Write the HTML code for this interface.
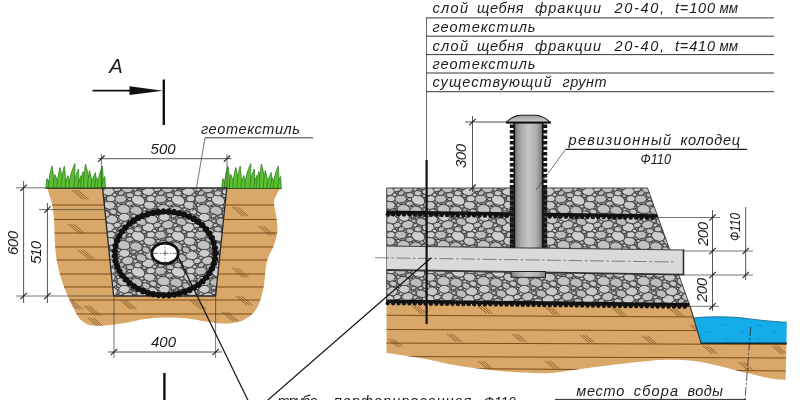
<!DOCTYPE html><html><head><meta charset="utf-8"><style>html,body{margin:0;padding:0;background:#fff;overflow:hidden}svg{display:block;filter:blur(0.3px)}</style></head><body><svg width="800" height="400" viewBox="0 0 800 400">
<defs>
<pattern id="gravel" width="40" height="36" patternUnits="userSpaceOnUse"><rect width="40" height="36" fill="#8e8e8e"/><ellipse cx="18.1" cy="20.2" rx="7.0" ry="4.9" transform="rotate(24 18.1 20.2)" fill="#cdcdcd" stroke="#353535" stroke-width="0.85"/><ellipse cx="31.7" cy="3.4" rx="6.2" ry="4.4" transform="rotate(7 31.7 3.4)" fill="#c8c8c8" stroke="#353535" stroke-width="0.85"/><ellipse cx="31.7" cy="39.4" rx="6.2" ry="4.4" transform="rotate(7 31.7 39.4)" fill="#c8c8c8" stroke="#353535" stroke-width="0.85"/><ellipse cx="3.6" cy="-6.9" rx="6.7" ry="4.7" transform="rotate(11 3.6 -6.9)" fill="#c2c2c2" stroke="#353535" stroke-width="0.85"/><ellipse cx="3.6" cy="29.1" rx="6.7" ry="4.7" transform="rotate(11 3.6 29.1)" fill="#c2c2c2" stroke="#353535" stroke-width="0.85"/><ellipse cx="43.6" cy="-6.9" rx="6.7" ry="4.7" transform="rotate(11 43.6 -6.9)" fill="#c2c2c2" stroke="#353535" stroke-width="0.85"/><ellipse cx="43.6" cy="29.1" rx="6.7" ry="4.7" transform="rotate(11 43.6 29.1)" fill="#c2c2c2" stroke="#353535" stroke-width="0.85"/><ellipse cx="0.6" cy="19.0" rx="5.9" ry="4.2" transform="rotate(-7 0.6 19.0)" fill="#bcbcbc" stroke="#353535" stroke-width="0.85"/><ellipse cx="40.6" cy="19.0" rx="5.9" ry="4.2" transform="rotate(-7 40.6 19.0)" fill="#bcbcbc" stroke="#353535" stroke-width="0.85"/><ellipse cx="7.6" cy="8.7" rx="5.9" ry="4.1" transform="rotate(-9 7.6 8.7)" fill="#c2c2c2" stroke="#353535" stroke-width="0.85"/><ellipse cx="28.3" cy="11.3" rx="6.1" ry="4.3" transform="rotate(2 28.3 11.3)" fill="#cdcdcd" stroke="#353535" stroke-width="0.85"/><ellipse cx="16.0" cy="-5.5" rx="6.3" ry="4.5" transform="rotate(18 16.0 -5.5)" fill="#bcbcbc" stroke="#353535" stroke-width="0.85"/><ellipse cx="16.0" cy="30.5" rx="6.3" ry="4.5" transform="rotate(18 16.0 30.5)" fill="#bcbcbc" stroke="#353535" stroke-width="0.85"/><ellipse cx="29.5" cy="25.3" rx="5.9" ry="4.2" transform="rotate(10 29.5 25.3)" fill="#c8c8c8" stroke="#353535" stroke-width="0.85"/><ellipse cx="21.2" cy="5.8" rx="5.3" ry="3.7" transform="rotate(20 21.2 5.8)" fill="#bcbcbc" stroke="#353535" stroke-width="0.85"/><ellipse cx="21.2" cy="41.8" rx="5.3" ry="3.7" transform="rotate(20 21.2 41.8)" fill="#bcbcbc" stroke="#353535" stroke-width="0.85"/><ellipse cx="4.2" cy="1.3" rx="5.7" ry="4.0" transform="rotate(-4 4.2 1.3)" fill="#cdcdcd" stroke="#353535" stroke-width="0.85"/><ellipse cx="4.2" cy="37.3" rx="5.7" ry="4.0" transform="rotate(-4 4.2 37.3)" fill="#cdcdcd" stroke="#353535" stroke-width="0.85"/><ellipse cx="44.2" cy="1.3" rx="5.7" ry="4.0" transform="rotate(-4 44.2 1.3)" fill="#cdcdcd" stroke="#353535" stroke-width="0.85"/><ellipse cx="44.2" cy="37.3" rx="5.7" ry="4.0" transform="rotate(-4 44.2 37.3)" fill="#cdcdcd" stroke="#353535" stroke-width="0.85"/><ellipse cx="30.8" cy="18.7" rx="4.3" ry="3.0" transform="rotate(-4 30.8 18.7)" fill="#cdcdcd" stroke="#353535" stroke-width="0.85"/><ellipse cx="-6.8" cy="-4.3" rx="3.8" ry="2.7" transform="rotate(17 -6.8 -4.3)" fill="#c8c8c8" stroke="#353535" stroke-width="0.85"/><ellipse cx="-6.8" cy="31.7" rx="3.8" ry="2.7" transform="rotate(17 -6.8 31.7)" fill="#c8c8c8" stroke="#353535" stroke-width="0.85"/><ellipse cx="33.2" cy="-4.3" rx="3.8" ry="2.7" transform="rotate(17 33.2 -4.3)" fill="#c8c8c8" stroke="#353535" stroke-width="0.85"/><ellipse cx="33.2" cy="31.7" rx="3.8" ry="2.7" transform="rotate(17 33.2 31.7)" fill="#c8c8c8" stroke="#353535" stroke-width="0.85"/><ellipse cx="-2.7" cy="9.0" rx="3.9" ry="2.7" transform="rotate(-14 -2.7 9.0)" fill="#c8c8c8" stroke="#353535" stroke-width="0.85"/><ellipse cx="37.3" cy="9.0" rx="3.9" ry="2.7" transform="rotate(-14 37.3 9.0)" fill="#c8c8c8" stroke="#353535" stroke-width="0.85"/><ellipse cx="26.0" cy="-2.2" rx="4.1" ry="2.9" transform="rotate(25 26.0 -2.2)" fill="#bcbcbc" stroke="#353535" stroke-width="0.85"/><ellipse cx="26.0" cy="33.8" rx="4.1" ry="2.9" transform="rotate(25 26.0 33.8)" fill="#bcbcbc" stroke="#353535" stroke-width="0.85"/><ellipse cx="10.1" cy="15.1" rx="3.8" ry="2.6" transform="rotate(4 10.1 15.1)" fill="#c2c2c2" stroke="#353535" stroke-width="0.85"/><ellipse cx="9.5" cy="23.6" rx="3.7" ry="2.6" transform="rotate(0 9.5 23.6)" fill="#bcbcbc" stroke="#353535" stroke-width="0.85"/><ellipse cx="17.9" cy="13.2" rx="3.8" ry="2.7" transform="rotate(9 17.9 13.2)" fill="#c2c2c2" stroke="#353535" stroke-width="0.85"/><ellipse cx="13.6" cy="0.0" rx="2.7" ry="1.9" transform="rotate(-21 13.6 0.0)" fill="#bcbcbc" stroke="#353535" stroke-width="0.85"/><ellipse cx="13.6" cy="36.0" rx="2.7" ry="1.9" transform="rotate(-21 13.6 36.0)" fill="#bcbcbc" stroke="#353535" stroke-width="0.85"/><ellipse cx="1.2" cy="13.0" rx="3.3" ry="2.3" transform="rotate(-19 1.2 13.0)" fill="#bcbcbc" stroke="#353535" stroke-width="0.85"/><ellipse cx="41.2" cy="13.0" rx="3.3" ry="2.3" transform="rotate(-19 41.2 13.0)" fill="#bcbcbc" stroke="#353535" stroke-width="0.85"/><ellipse cx="13.7" cy="4.7" rx="2.5" ry="1.7" transform="rotate(13 13.7 4.7)" fill="#c2c2c2" stroke="#353535" stroke-width="0.85"/><ellipse cx="13.7" cy="40.7" rx="2.5" ry="1.7" transform="rotate(13 13.7 40.7)" fill="#c2c2c2" stroke="#353535" stroke-width="0.85"/><ellipse cx="20.7" cy="0.2" rx="2.3" ry="1.6" transform="rotate(-9 20.7 0.2)" fill="#c8c8c8" stroke="#353535" stroke-width="0.85"/><ellipse cx="20.7" cy="36.2" rx="2.3" ry="1.6" transform="rotate(-9 20.7 36.2)" fill="#c8c8c8" stroke="#353535" stroke-width="0.85"/><ellipse cx="-5.4" cy="14.7" rx="2.4" ry="1.7" transform="rotate(13 -5.4 14.7)" fill="#cdcdcd" stroke="#353535" stroke-width="0.85"/><ellipse cx="34.6" cy="14.7" rx="2.4" ry="1.7" transform="rotate(13 34.6 14.7)" fill="#cdcdcd" stroke="#353535" stroke-width="0.85"/><ellipse cx="0.8" cy="5.8" rx="2.2" ry="1.6" transform="rotate(-5 0.8 5.8)" fill="#c8c8c8" stroke="#353535" stroke-width="0.85"/><ellipse cx="0.8" cy="41.8" rx="2.2" ry="1.6" transform="rotate(-5 0.8 41.8)" fill="#c8c8c8" stroke="#353535" stroke-width="0.85"/><ellipse cx="40.8" cy="5.8" rx="2.2" ry="1.6" transform="rotate(-5 40.8 5.8)" fill="#c8c8c8" stroke="#353535" stroke-width="0.85"/><ellipse cx="40.8" cy="41.8" rx="2.2" ry="1.6" transform="rotate(-5 40.8 41.8)" fill="#c8c8c8" stroke="#353535" stroke-width="0.85"/><ellipse cx="24.8" cy="-6.5" rx="2.1" ry="1.5" transform="rotate(3 24.8 -6.5)" fill="#c8c8c8" stroke="#353535" stroke-width="0.85"/><ellipse cx="24.8" cy="29.5" rx="2.1" ry="1.5" transform="rotate(3 24.8 29.5)" fill="#c8c8c8" stroke="#353535" stroke-width="0.85"/><ellipse cx="24.2" cy="16.0" rx="2.1" ry="1.5" transform="rotate(7 24.2 16.0)" fill="#cdcdcd" stroke="#353535" stroke-width="0.85"/><ellipse cx="-1.8" cy="25.0" rx="2.1" ry="1.5" transform="rotate(-4 -1.8 25.0)" fill="#cdcdcd" stroke="#353535" stroke-width="0.85"/><ellipse cx="38.2" cy="25.0" rx="2.1" ry="1.5" transform="rotate(-4 38.2 25.0)" fill="#cdcdcd" stroke="#353535" stroke-width="0.85"/><ellipse cx="15.1" cy="9.3" rx="2.4" ry="1.7" transform="rotate(-19 15.1 9.3)" fill="#c8c8c8" stroke="#353535" stroke-width="0.85"/><ellipse cx="-1.5" cy="-2.0" rx="2.1" ry="1.5" transform="rotate(24 -1.5 -2.0)" fill="#bcbcbc" stroke="#353535" stroke-width="0.85"/><ellipse cx="-1.5" cy="34.0" rx="2.1" ry="1.5" transform="rotate(24 -1.5 34.0)" fill="#bcbcbc" stroke="#353535" stroke-width="0.85"/><ellipse cx="38.5" cy="-2.0" rx="2.1" ry="1.5" transform="rotate(24 38.5 -2.0)" fill="#bcbcbc" stroke="#353535" stroke-width="0.85"/><ellipse cx="38.5" cy="34.0" rx="2.1" ry="1.5" transform="rotate(24 38.5 34.0)" fill="#bcbcbc" stroke="#353535" stroke-width="0.85"/><ellipse cx="9.6" cy="19.2" rx="2.1" ry="1.5" transform="rotate(-8 9.6 19.2)" fill="#c8c8c8" stroke="#353535" stroke-width="0.85"/><ellipse cx="21.9" cy="26.5" rx="2.2" ry="1.6" transform="rotate(6 21.9 26.5)" fill="#c8c8c8" stroke="#353535" stroke-width="0.85"/><ellipse cx="-3.9" cy="22.6" rx="1.5" ry="1.1" transform="rotate(-15 -3.9 22.6)" fill="#c8c8c8" stroke="#353535" stroke-width="0.85"/><ellipse cx="36.1" cy="22.6" rx="1.5" ry="1.1" transform="rotate(-15 36.1 22.6)" fill="#c8c8c8" stroke="#353535" stroke-width="0.85"/><ellipse cx="10.6" cy="27.1" rx="1.6" ry="1.1" transform="rotate(18 10.6 27.1)" fill="#c2c2c2" stroke="#353535" stroke-width="0.85"/><ellipse cx="8.6" cy="-2.3" rx="1.5" ry="1.1" transform="rotate(1 8.6 -2.3)" fill="#c2c2c2" stroke="#353535" stroke-width="0.85"/><ellipse cx="8.6" cy="33.7" rx="1.5" ry="1.1" transform="rotate(1 8.6 33.7)" fill="#c2c2c2" stroke="#353535" stroke-width="0.85"/><ellipse cx="-2.5" cy="0.4" rx="1.6" ry="1.1" transform="rotate(24 -2.5 0.4)" fill="#c8c8c8" stroke="#353535" stroke-width="0.85"/><ellipse cx="-2.5" cy="36.4" rx="1.6" ry="1.1" transform="rotate(24 -2.5 36.4)" fill="#c8c8c8" stroke="#353535" stroke-width="0.85"/><ellipse cx="37.5" cy="0.4" rx="1.6" ry="1.1" transform="rotate(24 37.5 0.4)" fill="#c8c8c8" stroke="#353535" stroke-width="0.85"/><ellipse cx="37.5" cy="36.4" rx="1.6" ry="1.1" transform="rotate(24 37.5 36.4)" fill="#c8c8c8" stroke="#353535" stroke-width="0.85"/><ellipse cx="16.7" cy="2.0" rx="1.5" ry="1.1" transform="rotate(18 16.7 2.0)" fill="#cdcdcd" stroke="#353535" stroke-width="0.85"/><ellipse cx="16.7" cy="38.0" rx="1.5" ry="1.1" transform="rotate(18 16.7 38.0)" fill="#cdcdcd" stroke="#353535" stroke-width="0.85"/><ellipse cx="13.4" cy="25.7" rx="1.5" ry="1.0" transform="rotate(-22 13.4 25.7)" fill="#c2c2c2" stroke="#353535" stroke-width="0.85"/><ellipse cx="-4.4" cy="27.4" rx="1.5" ry="1.1" transform="rotate(-20 -4.4 27.4)" fill="#c2c2c2" stroke="#353535" stroke-width="0.85"/><ellipse cx="35.6" cy="27.4" rx="1.5" ry="1.1" transform="rotate(-20 35.6 27.4)" fill="#c2c2c2" stroke="#353535" stroke-width="0.85"/><ellipse cx="3.4" cy="23.6" rx="1.7" ry="1.2" transform="rotate(17 3.4 23.6)" fill="#bcbcbc" stroke="#353535" stroke-width="0.85"/><ellipse cx="43.4" cy="23.6" rx="1.7" ry="1.2" transform="rotate(17 43.4 23.6)" fill="#bcbcbc" stroke="#353535" stroke-width="0.85"/><ellipse cx="12.9" cy="12.1" rx="1.5" ry="1.0" transform="rotate(-3 12.9 12.1)" fill="#bcbcbc" stroke="#353535" stroke-width="0.85"/><ellipse cx="5.0" cy="15.1" rx="1.5" ry="1.1" transform="rotate(18 5.0 15.1)" fill="#c2c2c2" stroke="#353535" stroke-width="0.85"/><ellipse cx="45.0" cy="15.1" rx="1.5" ry="1.1" transform="rotate(18 45.0 15.1)" fill="#c2c2c2" stroke="#353535" stroke-width="0.85"/><ellipse cx="20.5" cy="10.2" rx="1.6" ry="1.1" transform="rotate(23 20.5 10.2)" fill="#bcbcbc" stroke="#353535" stroke-width="0.85"/><ellipse cx="10.4" cy="3.3" rx="1.7" ry="1.2" transform="rotate(21 10.4 3.3)" fill="#c8c8c8" stroke="#353535" stroke-width="0.85"/><ellipse cx="10.4" cy="39.3" rx="1.7" ry="1.2" transform="rotate(21 10.4 39.3)" fill="#c8c8c8" stroke="#353535" stroke-width="0.85"/><ellipse cx="-1.3" cy="3.9" rx="1.5" ry="1.1" transform="rotate(-23 -1.3 3.9)" fill="#cdcdcd" stroke="#353535" stroke-width="0.85"/><ellipse cx="-1.3" cy="39.9" rx="1.5" ry="1.1" transform="rotate(-23 -1.3 39.9)" fill="#cdcdcd" stroke="#353535" stroke-width="0.85"/><ellipse cx="38.7" cy="3.9" rx="1.5" ry="1.1" transform="rotate(-23 38.7 3.9)" fill="#cdcdcd" stroke="#353535" stroke-width="0.85"/><ellipse cx="38.7" cy="39.9" rx="1.5" ry="1.1" transform="rotate(-23 38.7 39.9)" fill="#cdcdcd" stroke="#353535" stroke-width="0.85"/><ellipse cx="24.6" cy="1.7" rx="1.7" ry="1.2" transform="rotate(25 24.6 1.7)" fill="#cdcdcd" stroke="#353535" stroke-width="0.85"/><ellipse cx="24.6" cy="37.7" rx="1.7" ry="1.2" transform="rotate(25 24.6 37.7)" fill="#cdcdcd" stroke="#353535" stroke-width="0.85"/><ellipse cx="28.5" cy="-5.8" rx="1.6" ry="1.1" transform="rotate(20 28.5 -5.8)" fill="#bcbcbc" stroke="#353535" stroke-width="0.85"/><ellipse cx="28.5" cy="30.2" rx="1.6" ry="1.1" transform="rotate(20 28.5 30.2)" fill="#bcbcbc" stroke="#353535" stroke-width="0.85"/><ellipse cx="6.9" cy="20.5" rx="1.1" ry="0.8" transform="rotate(16 6.9 20.5)" fill="#c8c8c8" stroke="#353535" stroke-width="0.85"/><ellipse cx="46.9" cy="20.5" rx="1.1" ry="0.8" transform="rotate(16 46.9 20.5)" fill="#c8c8c8" stroke="#353535" stroke-width="0.85"/><ellipse cx="17.4" cy="25.6" rx="1.2" ry="0.9" transform="rotate(-11 17.4 25.6)" fill="#c8c8c8" stroke="#353535" stroke-width="0.85"/><ellipse cx="26.0" cy="20.8" rx="1.2" ry="0.9" transform="rotate(19 26.0 20.8)" fill="#c8c8c8" stroke="#353535" stroke-width="0.85"/><ellipse cx="22.3" cy="14.3" rx="1.2" ry="0.8" transform="rotate(-25 22.3 14.3)" fill="#c8c8c8" stroke="#353535" stroke-width="0.85"/><ellipse cx="25.4" cy="18.3" rx="1.2" ry="0.8" transform="rotate(-19 25.4 18.3)" fill="#bcbcbc" stroke="#353535" stroke-width="0.85"/><ellipse cx="-4.6" cy="-1.0" rx="1.3" ry="0.9" transform="rotate(9 -4.6 -1.0)" fill="#c2c2c2" stroke="#353535" stroke-width="0.85"/><ellipse cx="-4.6" cy="35.0" rx="1.3" ry="0.9" transform="rotate(9 -4.6 35.0)" fill="#c2c2c2" stroke="#353535" stroke-width="0.85"/><ellipse cx="35.4" cy="-1.0" rx="1.3" ry="0.9" transform="rotate(9 35.4 -1.0)" fill="#c2c2c2" stroke="#353535" stroke-width="0.85"/><ellipse cx="35.4" cy="35.0" rx="1.3" ry="0.9" transform="rotate(9 35.4 35.0)" fill="#c2c2c2" stroke="#353535" stroke-width="0.85"/><ellipse cx="0.8" cy="23.6" rx="1.1" ry="0.8" transform="rotate(-20 0.8 23.6)" fill="#bcbcbc" stroke="#353535" stroke-width="0.85"/><ellipse cx="40.8" cy="23.6" rx="1.1" ry="0.8" transform="rotate(-20 40.8 23.6)" fill="#bcbcbc" stroke="#353535" stroke-width="0.85"/><ellipse cx="12.9" cy="2.5" rx="1.1" ry="0.8" transform="rotate(-23 12.9 2.5)" fill="#bcbcbc" stroke="#353535" stroke-width="0.85"/><ellipse cx="12.9" cy="38.5" rx="1.1" ry="0.8" transform="rotate(-23 12.9 38.5)" fill="#bcbcbc" stroke="#353535" stroke-width="0.85"/><ellipse cx="-3.2" cy="12.5" rx="1.3" ry="0.9" transform="rotate(-23 -3.2 12.5)" fill="#cdcdcd" stroke="#353535" stroke-width="0.85"/><ellipse cx="36.8" cy="12.5" rx="1.3" ry="0.9" transform="rotate(-23 36.8 12.5)" fill="#cdcdcd" stroke="#353535" stroke-width="0.85"/><ellipse cx="-3.7" cy="-6.9" rx="1.2" ry="0.9" transform="rotate(-8 -3.7 -6.9)" fill="#c8c8c8" stroke="#353535" stroke-width="0.85"/><ellipse cx="-3.7" cy="29.1" rx="1.2" ry="0.9" transform="rotate(-8 -3.7 29.1)" fill="#c8c8c8" stroke="#353535" stroke-width="0.85"/><ellipse cx="36.3" cy="-6.9" rx="1.2" ry="0.9" transform="rotate(-8 36.3 -6.9)" fill="#c8c8c8" stroke="#353535" stroke-width="0.85"/><ellipse cx="36.3" cy="29.1" rx="1.2" ry="0.9" transform="rotate(-8 36.3 29.1)" fill="#c8c8c8" stroke="#353535" stroke-width="0.85"/><ellipse cx="27.2" cy="16.0" rx="1.1" ry="0.8" transform="rotate(-19 27.2 16.0)" fill="#c2c2c2" stroke="#353535" stroke-width="0.85"/><ellipse cx="-2.4" cy="5.7" rx="1.1" ry="0.8" transform="rotate(-24 -2.4 5.7)" fill="#cdcdcd" stroke="#353535" stroke-width="0.85"/><ellipse cx="-2.4" cy="41.7" rx="1.1" ry="0.8" transform="rotate(-24 -2.4 41.7)" fill="#cdcdcd" stroke="#353535" stroke-width="0.85"/><ellipse cx="37.6" cy="5.7" rx="1.1" ry="0.8" transform="rotate(-24 37.6 5.7)" fill="#cdcdcd" stroke="#353535" stroke-width="0.85"/><ellipse cx="37.6" cy="41.7" rx="1.1" ry="0.8" transform="rotate(-24 37.6 41.7)" fill="#cdcdcd" stroke="#353535" stroke-width="0.85"/></pattern>
<linearGradient id="pipeg" x1="0" x2="1" y1="0" y2="0"><stop offset="0" stop-color="#7c7c7c"/><stop offset="0.22" stop-color="#aaaaaa"/><stop offset="0.5" stop-color="#c6c6c6"/><stop offset="0.78" stop-color="#b0b0b0"/><stop offset="1" stop-color="#808080"/></linearGradient>
<clipPath id="cl"><path d="M47.5,188 L280.5,188 C279.9,189.0 278.1,191.7 277.0,194.0 C275.9,196.3 274.2,198.5 274.0,202.0 C273.8,205.5 275.4,210.3 276.0,215.0 C276.6,219.7 277.8,225.0 277.5,230.0 C277.2,235.0 275.6,240.3 274.0,245.0 C272.4,249.7 269.4,253.8 268.0,258.0 C266.6,262.2 266.2,265.5 265.5,270.0 C264.8,274.5 264.8,280.3 264.0,285.0 C263.2,289.7 262.2,294.2 261.0,298.0 C259.8,301.8 258.8,305.0 257.0,308.0 C255.2,311.0 252.8,313.8 250.0,316.0 C247.2,318.2 243.7,320.2 240.0,321.5 C236.3,322.8 232.2,323.2 228.0,323.5 C223.8,323.8 219.7,323.5 215.0,323.0 C210.3,322.5 205.0,321.3 200.0,320.5 C195.0,319.7 190.8,318.8 185.0,318.3 C179.2,317.8 171.7,317.4 165.0,317.5 C158.3,317.6 151.7,318.1 145.0,319.0 C138.3,319.9 131.7,321.9 125.0,323.0 C118.3,324.1 110.5,325.1 105.0,325.5 C99.5,325.9 95.5,326.0 92.0,325.5 C88.5,325.0 86.3,324.0 84.0,322.5 C81.7,321.0 80.0,319.4 78.0,316.5 C76.0,313.6 74.0,309.1 72.0,305.0 C70.0,300.9 67.8,296.5 66.0,292.0 C64.2,287.5 62.5,283.0 61.0,278.0 C59.5,273.0 58.0,267.5 57.0,262.0 C56.0,256.5 55.4,250.3 55.0,245.0 C54.6,239.7 54.7,234.5 54.5,230.0 C54.3,225.5 54.4,222.3 54.0,218.0 C53.6,213.7 52.8,208.0 52.0,204.0 C51.2,200.0 49.8,196.7 49.0,194.0 C48.2,191.3 47.8,189.0 47.5,188.0 Z"/></clipPath>
<clipPath id="cr"><path d="M386.5,301 L689.6,305 L701,343 L786.5,343 L785.5,380 C782.9,379.7 776.8,379.6 770.0,378.3 C763.2,377.1 754.2,374.7 745.0,372.5 C735.8,370.3 724.2,367.0 715.0,365.0 C705.8,363.0 699.2,361.3 690.0,360.5 C680.8,359.7 671.7,359.4 660.0,360.0 C648.3,360.6 633.3,362.5 620.0,364.0 C606.7,365.5 590.0,367.7 580.0,369.0 C570.0,370.3 566.7,371.3 560.0,372.0 C553.3,372.7 550.0,373.5 540.0,373.3 C530.0,373.1 513.3,372.2 500.0,371.0 C486.7,369.8 473.3,368.2 460.0,366.0 C446.7,363.8 432.2,360.2 420.0,358.0 C407.8,355.8 392.1,353.8 386.5,353.0 Z"/></clipPath>
<linearGradient id="capg" x1="0" x2="0" y1="0" y2="1"><stop offset="0" stop-color="#9c9c9c"/><stop offset="1" stop-color="#d2d2d2"/></linearGradient>
</defs>
<rect width="800" height="400" fill="#fff"/>
<path d="M47.5,188 L280.5,188 C279.9,189.0 278.1,191.7 277.0,194.0 C275.9,196.3 274.2,198.5 274.0,202.0 C273.8,205.5 275.4,210.3 276.0,215.0 C276.6,219.7 277.8,225.0 277.5,230.0 C277.2,235.0 275.6,240.3 274.0,245.0 C272.4,249.7 269.4,253.8 268.0,258.0 C266.6,262.2 266.2,265.5 265.5,270.0 C264.8,274.5 264.8,280.3 264.0,285.0 C263.2,289.7 262.2,294.2 261.0,298.0 C259.8,301.8 258.8,305.0 257.0,308.0 C255.2,311.0 252.8,313.8 250.0,316.0 C247.2,318.2 243.7,320.2 240.0,321.5 C236.3,322.8 232.2,323.2 228.0,323.5 C223.8,323.8 219.7,323.5 215.0,323.0 C210.3,322.5 205.0,321.3 200.0,320.5 C195.0,319.7 190.8,318.8 185.0,318.3 C179.2,317.8 171.7,317.4 165.0,317.5 C158.3,317.6 151.7,318.1 145.0,319.0 C138.3,319.9 131.7,321.9 125.0,323.0 C118.3,324.1 110.5,325.1 105.0,325.5 C99.5,325.9 95.5,326.0 92.0,325.5 C88.5,325.0 86.3,324.0 84.0,322.5 C81.7,321.0 80.0,319.4 78.0,316.5 C76.0,313.6 74.0,309.1 72.0,305.0 C70.0,300.9 67.8,296.5 66.0,292.0 C64.2,287.5 62.5,283.0 61.0,278.0 C59.5,273.0 58.0,267.5 57.0,262.0 C56.0,256.5 55.4,250.3 55.0,245.0 C54.6,239.7 54.7,234.5 54.5,230.0 C54.3,225.5 54.4,222.3 54.0,218.0 C53.6,213.7 52.8,208.0 52.0,204.0 C51.2,200.0 49.8,196.7 49.0,194.0 C48.2,191.3 47.8,189.0 47.5,188.0 Z" fill="#d9a869"/>
<g clip-path="url(#cl)">
<line x1="40" y1="205" x2="290" y2="205" stroke="#7a4a18" stroke-width="1"/>
<line x1="40" y1="219.5" x2="290" y2="219.5" stroke="#7a4a18" stroke-width="1"/>
<line x1="40" y1="233" x2="290" y2="233" stroke="#7a4a18" stroke-width="1"/>
<line x1="40" y1="247" x2="290" y2="247" stroke="#7a4a18" stroke-width="1"/>
<line x1="40" y1="260" x2="290" y2="260" stroke="#7a4a18" stroke-width="1"/>
<line x1="40" y1="274" x2="290" y2="274" stroke="#7a4a18" stroke-width="1"/>
<line x1="40" y1="287" x2="290" y2="287" stroke="#7a4a18" stroke-width="1"/>
<line x1="40" y1="300" x2="290" y2="300" stroke="#7a4a18" stroke-width="1"/>
<line x1="40" y1="314" x2="290" y2="314" stroke="#7a4a18" stroke-width="1"/>
<line x1="72.0" y1="190" x2="83.0" y2="199.35" stroke="#6e4a20" stroke-width="0.7"/><line x1="74.8" y1="190" x2="85.8" y2="199.35" stroke="#6e4a20" stroke-width="0.7"/><line x1="77.6" y1="190" x2="88.6" y2="199.35" stroke="#6e4a20" stroke-width="0.7"/>
<line x1="68.0" y1="224" x2="79.0" y2="233.35" stroke="#6e4a20" stroke-width="0.7"/><line x1="70.8" y1="224" x2="81.8" y2="233.35" stroke="#6e4a20" stroke-width="0.7"/><line x1="73.6" y1="224" x2="84.6" y2="233.35" stroke="#6e4a20" stroke-width="0.7"/>
<line x1="78.0" y1="250" x2="89.0" y2="259.35" stroke="#6e4a20" stroke-width="0.7"/><line x1="80.8" y1="250" x2="91.8" y2="259.35" stroke="#6e4a20" stroke-width="0.7"/><line x1="83.6" y1="250" x2="94.6" y2="259.35" stroke="#6e4a20" stroke-width="0.7"/>
<line x1="66.0" y1="300" x2="77.0" y2="309.35" stroke="#6e4a20" stroke-width="0.7"/><line x1="68.8" y1="300" x2="79.8" y2="309.35" stroke="#6e4a20" stroke-width="0.7"/><line x1="71.6" y1="300" x2="82.6" y2="309.35" stroke="#6e4a20" stroke-width="0.7"/>
<line x1="84.0" y1="306" x2="95.0" y2="315.35" stroke="#6e4a20" stroke-width="0.7"/><line x1="86.8" y1="306" x2="97.8" y2="315.35" stroke="#6e4a20" stroke-width="0.7"/><line x1="89.6" y1="306" x2="100.6" y2="315.35" stroke="#6e4a20" stroke-width="0.7"/>
<line x1="232.0" y1="207" x2="243.0" y2="216.35" stroke="#6e4a20" stroke-width="0.7"/><line x1="234.8" y1="207" x2="245.8" y2="216.35" stroke="#6e4a20" stroke-width="0.7"/><line x1="237.6" y1="207" x2="248.6" y2="216.35" stroke="#6e4a20" stroke-width="0.7"/>
<line x1="258.0" y1="226" x2="269.0" y2="235.35" stroke="#6e4a20" stroke-width="0.7"/><line x1="260.8" y1="226" x2="271.8" y2="235.35" stroke="#6e4a20" stroke-width="0.7"/><line x1="263.6" y1="226" x2="274.6" y2="235.35" stroke="#6e4a20" stroke-width="0.7"/>
<line x1="232.0" y1="268" x2="243.0" y2="277.35" stroke="#6e4a20" stroke-width="0.7"/><line x1="234.8" y1="268" x2="245.8" y2="277.35" stroke="#6e4a20" stroke-width="0.7"/><line x1="237.6" y1="268" x2="248.6" y2="277.35" stroke="#6e4a20" stroke-width="0.7"/>
<line x1="236.0" y1="296" x2="247.0" y2="305.35" stroke="#6e4a20" stroke-width="0.7"/><line x1="238.8" y1="296" x2="249.8" y2="305.35" stroke="#6e4a20" stroke-width="0.7"/><line x1="241.6" y1="296" x2="252.6" y2="305.35" stroke="#6e4a20" stroke-width="0.7"/>
<line x1="222.0" y1="312" x2="233.0" y2="321.35" stroke="#6e4a20" stroke-width="0.7"/><line x1="224.8" y1="312" x2="235.8" y2="321.35" stroke="#6e4a20" stroke-width="0.7"/><line x1="227.6" y1="312" x2="238.6" y2="321.35" stroke="#6e4a20" stroke-width="0.7"/>
<line x1="120.0" y1="300" x2="131.0" y2="309.35" stroke="#6e4a20" stroke-width="0.7"/><line x1="122.8" y1="300" x2="133.8" y2="309.35" stroke="#6e4a20" stroke-width="0.7"/><line x1="125.6" y1="300" x2="136.6" y2="309.35" stroke="#6e4a20" stroke-width="0.7"/>
<line x1="190.0" y1="300" x2="201.0" y2="309.35" stroke="#6e4a20" stroke-width="0.7"/><line x1="192.8" y1="300" x2="203.8" y2="309.35" stroke="#6e4a20" stroke-width="0.7"/><line x1="195.6" y1="300" x2="206.6" y2="309.35" stroke="#6e4a20" stroke-width="0.7"/>
<line x1="88.0" y1="318" x2="99.0" y2="327.35" stroke="#6e4a20" stroke-width="0.7"/><line x1="90.8" y1="318" x2="101.8" y2="327.35" stroke="#6e4a20" stroke-width="0.7"/><line x1="93.6" y1="318" x2="104.6" y2="327.35" stroke="#6e4a20" stroke-width="0.7"/>
</g>
<path d="M46,188.5 L46.5,180.5 L104.5,180.5 L105,188.5Z" fill="#4fb52c"/><path d="M46.0,188.5 C46.3,184.0 46.5,181.0 47.0,178.5 C48.5,181.5 49.7,184.5 50.0,188.5Z" fill="#5cc032" stroke="#2b7a1e" stroke-width="0.75" stroke-linejoin="round"/><path d="M48.5,188.5 C48.8,178.4 50.2,171.6 52.0,166.0 C53.2,172.8 54.2,179.5 54.5,188.5Z" fill="#5cc032" stroke="#2b7a1e" stroke-width="0.75" stroke-linejoin="round"/><path d="M53.5,188.5 C53.8,182.2 54.2,178.0 55.0,174.5 C56.8,178.7 58.2,182.9 58.5,188.5Z" fill="#5cc032" stroke="#2b7a1e" stroke-width="0.75" stroke-linejoin="round"/><path d="M57.0,188.5 C57.3,179.1 58.5,172.8 60.0,167.5 C61.5,173.8 62.7,180.1 63.0,188.5Z" fill="#5cc032" stroke="#2b7a1e" stroke-width="0.75" stroke-linejoin="round"/><path d="M61.0,188.5 C61.3,178.4 62.7,171.6 64.4,166.0 C65.2,172.8 65.7,179.5 66.0,188.5Z" fill="#5cc032" stroke="#2b7a1e" stroke-width="0.75" stroke-linejoin="round"/><path d="M65.0,188.5 C65.3,182.7 66.5,178.8 68.0,175.5 C69.0,179.4 69.7,183.3 70.0,188.5Z" fill="#5cc032" stroke="#2b7a1e" stroke-width="0.75" stroke-linejoin="round"/><path d="M69.0,188.5 C69.3,177.2 72.0,169.8 75.0,163.5 C75.0,171.0 74.7,178.5 75.0,188.5Z" fill="#5cc032" stroke="#2b7a1e" stroke-width="0.75" stroke-linejoin="round"/><path d="M74.0,188.5 C74.3,179.7 76.2,173.9 78.5,169.0 C78.8,174.8 78.7,180.7 79.0,188.5Z" fill="#5cc032" stroke="#2b7a1e" stroke-width="0.75" stroke-linejoin="round"/><path d="M78.0,188.5 C78.3,182.7 79.5,178.8 81.0,175.5 C82.0,179.4 82.7,183.3 83.0,188.5Z" fill="#5cc032" stroke="#2b7a1e" stroke-width="0.75" stroke-linejoin="round"/><path d="M80.5,188.5 C80.8,180.8 81.8,175.8 83.0,171.5 C84.2,176.6 85.2,181.7 85.5,188.5Z" fill="#5cc032" stroke="#2b7a1e" stroke-width="0.75" stroke-linejoin="round"/><path d="M83.5,188.5 C83.8,177.5 84.5,170.1 85.6,164.0 C87.5,171.3 89.2,178.7 89.5,188.5Z" fill="#5cc032" stroke="#2b7a1e" stroke-width="0.75" stroke-linejoin="round"/><path d="M87.5,188.5 C87.8,180.4 88.5,175.0 89.5,170.5 C91.0,175.9 92.2,181.3 92.5,188.5Z" fill="#5cc032" stroke="#2b7a1e" stroke-width="0.75" stroke-linejoin="round"/><path d="M91.0,188.5 C91.3,181.3 93.2,176.5 95.5,172.5 C95.8,177.3 95.7,182.1 96.0,188.5Z" fill="#5cc032" stroke="#2b7a1e" stroke-width="0.75" stroke-linejoin="round"/><path d="M94.5,188.5 C94.8,183.6 95.5,180.2 96.5,177.5 C98.0,180.8 99.2,184.1 99.5,188.5Z" fill="#5cc032" stroke="#2b7a1e" stroke-width="0.75" stroke-linejoin="round"/><path d="M97.5,188.5 C97.8,178.4 100.0,171.6 102.5,166.0 C103.0,172.8 103.2,179.5 103.5,188.5Z" fill="#5cc032" stroke="#2b7a1e" stroke-width="0.75" stroke-linejoin="round"/><path d="M101.5,188.5 C101.8,183.1 103.2,179.5 104.8,176.5 C105.2,180.1 105.2,183.7 105.5,188.5Z" fill="#5cc032" stroke="#2b7a1e" stroke-width="0.75" stroke-linejoin="round"/><line x1="45.5" y1="188.5" x2="105.5" y2="188.5" stroke="#2a5a18" stroke-width="1"/>
<path d="M221.8,188.5 L222.3,180.5 L280.3,180.5 L280.8,188.5Z" fill="#4fb52c"/><path d="M221.8,188.5 C222.1,184.0 222.3,181.0 222.8,178.5 C224.3,181.5 225.5,184.5 225.8,188.5Z" fill="#5cc032" stroke="#2b7a1e" stroke-width="0.75" stroke-linejoin="round"/><path d="M224.3,188.5 C224.6,178.4 226.1,171.6 227.8,166.0 C229.1,172.8 230.0,179.5 230.3,188.5Z" fill="#5cc032" stroke="#2b7a1e" stroke-width="0.75" stroke-linejoin="round"/><path d="M229.3,188.5 C229.6,182.2 230.1,178.0 230.8,174.5 C232.6,178.7 234.0,182.9 234.3,188.5Z" fill="#5cc032" stroke="#2b7a1e" stroke-width="0.75" stroke-linejoin="round"/><path d="M232.8,188.5 C233.1,179.1 234.3,172.8 235.8,167.5 C237.3,173.8 238.5,180.1 238.8,188.5Z" fill="#5cc032" stroke="#2b7a1e" stroke-width="0.75" stroke-linejoin="round"/><path d="M236.8,188.5 C237.1,178.4 238.5,171.6 240.2,166.0 C241.0,172.8 241.5,179.5 241.8,188.5Z" fill="#5cc032" stroke="#2b7a1e" stroke-width="0.75" stroke-linejoin="round"/><path d="M240.8,188.5 C241.1,182.7 242.3,178.8 243.8,175.5 C244.8,179.4 245.5,183.3 245.8,188.5Z" fill="#5cc032" stroke="#2b7a1e" stroke-width="0.75" stroke-linejoin="round"/><path d="M244.8,188.5 C245.1,177.2 247.8,169.8 250.8,163.5 C250.8,171.0 250.5,178.5 250.8,188.5Z" fill="#5cc032" stroke="#2b7a1e" stroke-width="0.75" stroke-linejoin="round"/><path d="M249.8,188.5 C250.1,179.7 252.1,173.9 254.3,169.0 C254.6,174.8 254.5,180.7 254.8,188.5Z" fill="#5cc032" stroke="#2b7a1e" stroke-width="0.75" stroke-linejoin="round"/><path d="M253.8,188.5 C254.1,182.7 255.3,178.8 256.8,175.5 C257.8,179.4 258.5,183.3 258.8,188.5Z" fill="#5cc032" stroke="#2b7a1e" stroke-width="0.75" stroke-linejoin="round"/><path d="M256.3,188.5 C256.6,180.8 257.6,175.8 258.8,171.5 C260.1,176.6 261.0,181.7 261.3,188.5Z" fill="#5cc032" stroke="#2b7a1e" stroke-width="0.75" stroke-linejoin="round"/><path d="M259.3,188.5 C259.6,177.5 260.4,170.1 261.4,164.0 C263.4,171.3 265.0,178.7 265.3,188.5Z" fill="#5cc032" stroke="#2b7a1e" stroke-width="0.75" stroke-linejoin="round"/><path d="M263.3,188.5 C263.6,180.4 264.3,175.0 265.3,170.5 C266.8,175.9 268.0,181.3 268.3,188.5Z" fill="#5cc032" stroke="#2b7a1e" stroke-width="0.75" stroke-linejoin="round"/><path d="M266.8,188.5 C267.1,181.3 269.1,176.5 271.3,172.5 C271.6,177.3 271.5,182.1 271.8,188.5Z" fill="#5cc032" stroke="#2b7a1e" stroke-width="0.75" stroke-linejoin="round"/><path d="M270.3,188.5 C270.6,183.6 271.3,180.2 272.3,177.5 C273.8,180.8 275.0,184.1 275.3,188.5Z" fill="#5cc032" stroke="#2b7a1e" stroke-width="0.75" stroke-linejoin="round"/><path d="M273.3,188.5 C273.6,178.4 275.8,171.6 278.3,166.0 C278.8,172.8 279.0,179.5 279.3,188.5Z" fill="#5cc032" stroke="#2b7a1e" stroke-width="0.75" stroke-linejoin="round"/><path d="M277.3,188.5 C277.6,183.1 279.0,179.5 280.6,176.5 C281.0,180.1 281.0,183.7 281.3,188.5Z" fill="#5cc032" stroke="#2b7a1e" stroke-width="0.75" stroke-linejoin="round"/><line x1="221.3" y1="188.5" x2="281.3" y2="188.5" stroke="#2a5a18" stroke-width="1"/>
<polygon points="102.6,188 226.8,188 215.6,296 113.6,296" fill="url(#gravel)" stroke="#2a2a2a" stroke-width="1.3"/>
<ellipse cx="165" cy="253.4" rx="50.1" ry="41.7" fill="none" stroke="#111" stroke-width="4.4"/>
<ellipse cx="165" cy="253.4" rx="51.5" ry="43.1" fill="none" stroke="#111" stroke-width="4.2" stroke-dasharray="0.1 5.3" stroke-linecap="round"/>
<ellipse cx="165" cy="253.4" rx="48.9" ry="40.5" fill="none" stroke="#111" stroke-width="3.6" stroke-dasharray="0.1 5.0" stroke-linecap="round"/>
<ellipse cx="165" cy="253.4" rx="13.2" ry="10.3" fill="#fff" stroke="#111" stroke-width="2.8"/>
<line x1="165" y1="229" x2="165" y2="274" stroke="#3a3a3a" stroke-width="0.7" stroke-dasharray="6 1.5 1.5 1.5"/>
<line x1="152" y1="253.4" x2="180" y2="253.4" stroke="#3a3a3a" stroke-width="0.7" stroke-dasharray="6 1.5 1.5 1.5"/>
<line x1="92.5" y1="90.7" x2="135" y2="90.7" stroke="#111" stroke-width="1.8"/>
<polygon points="129.5,86.3 163,90.7 129.5,95.1" fill="#111"/>
<line x1="163.8" y1="79.5" x2="163.8" y2="125" stroke="#111" stroke-width="2.4"/>
<line x1="164.4" y1="373" x2="164.4" y2="400" stroke="#111" stroke-width="2.4"/>
<line x1="98.5" y1="158.7" x2="231.5" y2="158.7" stroke="#2a2a2a" stroke-width="0.8"/>
<line x1="101.4" y1="154" x2="101.4" y2="188" stroke="#3a3a3a" stroke-width="0.7"/>
<line x1="227" y1="154" x2="227" y2="188" stroke="#3a3a3a" stroke-width="0.7"/>
<line x1="98.2" y1="161.89999999999998" x2="104.60000000000001" y2="155.5" stroke="#222" stroke-width="1.1"/>
<line x1="223.8" y1="161.89999999999998" x2="230.2" y2="155.5" stroke="#222" stroke-width="1.1"/>
<line x1="108" y1="352" x2="222" y2="352" stroke="#2a2a2a" stroke-width="0.8"/>
<line x1="114" y1="296" x2="114" y2="358" stroke="#3a3a3a" stroke-width="0.7"/>
<line x1="215.6" y1="296" x2="215.6" y2="358" stroke="#3a3a3a" stroke-width="0.7"/>
<line x1="110.8" y1="355.2" x2="117.2" y2="348.8" stroke="#222" stroke-width="1.1"/>
<line x1="212.4" y1="355.2" x2="218.79999999999998" y2="348.8" stroke="#222" stroke-width="1.1"/>
<line x1="23.6" y1="181" x2="23.6" y2="303" stroke="#2a2a2a" stroke-width="0.8"/>
<line x1="47.4" y1="203" x2="47.4" y2="303" stroke="#2a2a2a" stroke-width="0.8"/>
<line x1="16" y1="187.8" x2="101" y2="187.8" stroke="#3a3a3a" stroke-width="0.7"/>
<line x1="39" y1="209.6" x2="105" y2="209.6" stroke="#3a3a3a" stroke-width="0.7"/>
<line x1="16" y1="296" x2="116" y2="296" stroke="#3a3a3a" stroke-width="0.7"/>
<line x1="20.400000000000002" y1="191.0" x2="26.8" y2="184.60000000000002" stroke="#222" stroke-width="1.1"/>
<line x1="20.400000000000002" y1="299.2" x2="26.8" y2="292.8" stroke="#222" stroke-width="1.1"/>
<line x1="44.199999999999996" y1="212.79999999999998" x2="50.6" y2="206.4" stroke="#222" stroke-width="1.1"/>
<line x1="44.199999999999996" y1="299.2" x2="50.6" y2="292.8" stroke="#222" stroke-width="1.1"/>
<line x1="205" y1="137.8" x2="192.5" y2="211" stroke="#3a3a3a" stroke-width="0.7"/>
<line x1="205" y1="137.8" x2="313" y2="137.8" stroke="#2a2a2a" stroke-width="0.95"/>
<line x1="178" y1="256.5" x2="248.3" y2="401" stroke="#111" stroke-width="1.2"/>
<path d="M386.5,301 L689.6,305 L701,343 L786.5,343 L785.5,380 C782.9,379.7 776.8,379.6 770.0,378.3 C763.2,377.1 754.2,374.7 745.0,372.5 C735.8,370.3 724.2,367.0 715.0,365.0 C705.8,363.0 699.2,361.3 690.0,360.5 C680.8,359.7 671.7,359.4 660.0,360.0 C648.3,360.6 633.3,362.5 620.0,364.0 C606.7,365.5 590.0,367.7 580.0,369.0 C570.0,370.3 566.7,371.3 560.0,372.0 C553.3,372.7 550.0,373.5 540.0,373.3 C530.0,373.1 513.3,372.2 500.0,371.0 C486.7,369.8 473.3,368.2 460.0,366.0 C446.7,363.8 432.2,360.2 420.0,358.0 C407.8,355.8 392.1,353.8 386.5,353.0 Z" fill="#d9a869"/>
<g clip-path="url(#cr)">
<line x1="380" y1="315.2" x2="790" y2="317.5" stroke="#7a4a18" stroke-width="1"/>
<line x1="380" y1="329.5" x2="790" y2="331" stroke="#7a4a18" stroke-width="1"/>
<line x1="380" y1="343" x2="790" y2="344.5" stroke="#7a4a18" stroke-width="1"/>
<line x1="380" y1="356.5" x2="790" y2="358" stroke="#7a4a18" stroke-width="1"/>
<line x1="380" y1="368" x2="790" y2="371" stroke="#7a4a18" stroke-width="1"/>
<line x1="412.0" y1="306" x2="421.0" y2="313.65" stroke="#6e4a20" stroke-width="0.7"/><line x1="414.8" y1="306" x2="423.8" y2="313.65" stroke="#6e4a20" stroke-width="0.7"/><line x1="417.6" y1="306" x2="426.6" y2="313.65" stroke="#6e4a20" stroke-width="0.7"/>
<line x1="478.0" y1="306" x2="487.0" y2="313.65" stroke="#6e4a20" stroke-width="0.7"/><line x1="480.8" y1="306" x2="489.8" y2="313.65" stroke="#6e4a20" stroke-width="0.7"/><line x1="483.6" y1="306" x2="492.6" y2="313.65" stroke="#6e4a20" stroke-width="0.7"/>
<line x1="545.0" y1="307" x2="554.0" y2="314.65" stroke="#6e4a20" stroke-width="0.7"/><line x1="547.8" y1="307" x2="556.8" y2="314.65" stroke="#6e4a20" stroke-width="0.7"/><line x1="550.6" y1="307" x2="559.6" y2="314.65" stroke="#6e4a20" stroke-width="0.7"/>
<line x1="612.0" y1="308" x2="621.0" y2="315.65" stroke="#6e4a20" stroke-width="0.7"/><line x1="614.8" y1="308" x2="623.8" y2="315.65" stroke="#6e4a20" stroke-width="0.7"/><line x1="617.6" y1="308" x2="626.6" y2="315.65" stroke="#6e4a20" stroke-width="0.7"/>
<line x1="670.0" y1="309" x2="679.0" y2="316.65" stroke="#6e4a20" stroke-width="0.7"/><line x1="672.8" y1="309" x2="681.8" y2="316.65" stroke="#6e4a20" stroke-width="0.7"/><line x1="675.6" y1="309" x2="684.6" y2="316.65" stroke="#6e4a20" stroke-width="0.7"/>
<line x1="388.0" y1="339" x2="397.0" y2="346.65" stroke="#6e4a20" stroke-width="0.7"/><line x1="390.8" y1="339" x2="399.8" y2="346.65" stroke="#6e4a20" stroke-width="0.7"/><line x1="393.6" y1="339" x2="402.6" y2="346.65" stroke="#6e4a20" stroke-width="0.7"/>
<line x1="447.0" y1="334" x2="456.0" y2="341.65" stroke="#6e4a20" stroke-width="0.7"/><line x1="449.8" y1="334" x2="458.8" y2="341.65" stroke="#6e4a20" stroke-width="0.7"/><line x1="452.6" y1="334" x2="461.6" y2="341.65" stroke="#6e4a20" stroke-width="0.7"/>
<line x1="512.0" y1="334" x2="521.0" y2="341.65" stroke="#6e4a20" stroke-width="0.7"/><line x1="514.8" y1="334" x2="523.8" y2="341.65" stroke="#6e4a20" stroke-width="0.7"/><line x1="517.6" y1="334" x2="526.6" y2="341.65" stroke="#6e4a20" stroke-width="0.7"/>
<line x1="580.0" y1="335" x2="589.0" y2="342.65" stroke="#6e4a20" stroke-width="0.7"/><line x1="582.8" y1="335" x2="591.8" y2="342.65" stroke="#6e4a20" stroke-width="0.7"/><line x1="585.6" y1="335" x2="594.6" y2="342.65" stroke="#6e4a20" stroke-width="0.7"/>
<line x1="642.0" y1="336" x2="651.0" y2="343.65" stroke="#6e4a20" stroke-width="0.7"/><line x1="644.8" y1="336" x2="653.8" y2="343.65" stroke="#6e4a20" stroke-width="0.7"/><line x1="647.6" y1="336" x2="656.6" y2="343.65" stroke="#6e4a20" stroke-width="0.7"/>
<line x1="478.0" y1="361" x2="487.0" y2="368.65" stroke="#6e4a20" stroke-width="0.7"/><line x1="480.8" y1="361" x2="489.8" y2="368.65" stroke="#6e4a20" stroke-width="0.7"/><line x1="483.6" y1="361" x2="492.6" y2="368.65" stroke="#6e4a20" stroke-width="0.7"/>
<line x1="545.0" y1="361" x2="554.0" y2="368.65" stroke="#6e4a20" stroke-width="0.7"/><line x1="547.8" y1="361" x2="556.8" y2="368.65" stroke="#6e4a20" stroke-width="0.7"/><line x1="550.6" y1="361" x2="559.6" y2="368.65" stroke="#6e4a20" stroke-width="0.7"/>
<line x1="703.0" y1="346" x2="712.0" y2="353.65" stroke="#6e4a20" stroke-width="0.7"/><line x1="705.8" y1="346" x2="714.8" y2="353.65" stroke="#6e4a20" stroke-width="0.7"/><line x1="708.6" y1="346" x2="717.6" y2="353.65" stroke="#6e4a20" stroke-width="0.7"/>
<line x1="772.0" y1="346" x2="781.0" y2="353.65" stroke="#6e4a20" stroke-width="0.7"/><line x1="774.8" y1="346" x2="783.8" y2="353.65" stroke="#6e4a20" stroke-width="0.7"/><line x1="777.6" y1="346" x2="786.6" y2="353.65" stroke="#6e4a20" stroke-width="0.7"/>
<line x1="738.0" y1="362" x2="747.0" y2="369.65" stroke="#6e4a20" stroke-width="0.7"/><line x1="740.8" y1="362" x2="749.8" y2="369.65" stroke="#6e4a20" stroke-width="0.7"/><line x1="743.6" y1="362" x2="752.6" y2="369.65" stroke="#6e4a20" stroke-width="0.7"/>
<line x1="690.0" y1="325" x2="699.0" y2="332.65" stroke="#6e4a20" stroke-width="0.7"/><line x1="692.8" y1="325" x2="701.8" y2="332.65" stroke="#6e4a20" stroke-width="0.7"/><line x1="695.6" y1="325" x2="704.6" y2="332.65" stroke="#6e4a20" stroke-width="0.7"/>
</g>
<polygon points="386.7,188 647.5,188 689.6,305 386.7,301.5" fill="url(#gravel)"/>
<polygon points="386.7,188 647.5,188 689.6,305 386.7,301.5" fill="none" stroke="#333" stroke-width="0.9"/>
<line x1="386.7" y1="212.3" x2="657.5" y2="216" stroke="#111" stroke-width="3.6"/><line x1="387.7" y1="214.3" x2="657.5" y2="218.0" stroke="#111" stroke-width="4.3" stroke-dasharray="0.1 5.3" stroke-linecap="round"/>
<line x1="386.7" y1="301.2" x2="689.5" y2="304.9" stroke="#111" stroke-width="3.6"/><line x1="387.7" y1="303.2" x2="689.5" y2="306.9" stroke="#111" stroke-width="4.3" stroke-dasharray="0.1 5.3" stroke-linecap="round"/>
<polygon points="386.7,246 683.7,250 683.7,274.6 386.7,270" fill="#dadada"/>
<line x1="386.7" y1="246" x2="683.7" y2="250" stroke="#444" stroke-width="1.2"/>
<line x1="386.7" y1="270" x2="683.7" y2="274.6" stroke="#333" stroke-width="1.8"/>
<line x1="683.5" y1="249.5" x2="683.5" y2="275.2" stroke="#333" stroke-width="1.6"/>
<line x1="375" y1="257.7" x2="676" y2="262" stroke="#555" stroke-width="0.7" stroke-dasharray="14 2.5 2.5 2.5"/>
<rect x="511" y="271.5" width="34.5" height="5.8" fill="url(#pipeg)" stroke="#222" stroke-width="1"/>
<rect x="510" y="188" width="37" height="59.5" fill="#3a3a3a"/>
<line x1="512.1" y1="124.5" x2="512.1" y2="247.5" stroke="#151515" stroke-width="4.6" stroke-dasharray="3.4 2.1"/>
<line x1="544.9" y1="124.5" x2="544.9" y2="247.5" stroke="#151515" stroke-width="4.6" stroke-dasharray="3.4 2.1"/>
<rect x="513.4" y="123" width="30.2" height="124.5" fill="#151515"/>
<rect x="515.2" y="123" width="26.6" height="124.5" fill="url(#pipeg)"/>
<path d="M506.2,122.6 L550.6,122.6 C546,118 541,115.6 536,115.2 L520,115.2 C515,115.6 510.5,118 506.2,122.6Z" fill="url(#capg)" stroke="#1a1a1a" stroke-width="1.1" stroke-linejoin="round"/>
<line x1="506" y1="122.6" x2="550.8" y2="122.6" stroke="#111" stroke-width="2"/>
<line x1="426.5" y1="17.8" x2="426.5" y2="160" stroke="#444" stroke-width="0.8"/>
<line x1="426.6" y1="160" x2="426.6" y2="324" stroke="#111" stroke-width="2.2"/>
<line x1="426.2" y1="17.9" x2="774" y2="17.9" stroke="#2a2a2a" stroke-width="0.95"/>
<line x1="426.2" y1="36.2" x2="774" y2="36.2" stroke="#2a2a2a" stroke-width="0.95"/>
<line x1="426.2" y1="54.6" x2="774" y2="54.6" stroke="#2a2a2a" stroke-width="0.95"/>
<line x1="426.2" y1="73" x2="774" y2="73" stroke="#2a2a2a" stroke-width="0.95"/>
<line x1="426.2" y1="91.7" x2="774" y2="91.7" stroke="#2a2a2a" stroke-width="0.95"/>
<line x1="472.5" y1="116" x2="472.5" y2="192" stroke="#2a2a2a" stroke-width="0.8"/>
<line x1="465" y1="122" x2="507" y2="122" stroke="#222" stroke-width="0.8"/>
<line x1="469.3" y1="125.2" x2="475.7" y2="118.8" stroke="#222" stroke-width="1.1"/>
<line x1="469.3" y1="190.89999999999998" x2="475.7" y2="184.5" stroke="#222" stroke-width="1.1"/>
<line x1="565.5" y1="149.4" x2="747" y2="149.4" stroke="#222" stroke-width="1.1"/>
<line x1="565.5" y1="149.4" x2="536" y2="190" stroke="#3a3a3a" stroke-width="0.7"/>
<line x1="712.5" y1="210" x2="712.5" y2="311" stroke="#2a2a2a" stroke-width="0.8"/>
<line x1="745.7" y1="207" x2="745.7" y2="280" stroke="#2a2a2a" stroke-width="0.8"/>
<line x1="657" y1="217.5" x2="720" y2="217.5" stroke="#3a3a3a" stroke-width="0.7"/>
<line x1="684" y1="251" x2="753" y2="251" stroke="#3a3a3a" stroke-width="0.7"/>
<line x1="684" y1="275" x2="753" y2="275" stroke="#3a3a3a" stroke-width="0.7"/>
<line x1="689" y1="306.3" x2="719" y2="306.3" stroke="#3a3a3a" stroke-width="0.7"/>
<line x1="709.3" y1="220.7" x2="715.7" y2="214.3" stroke="#222" stroke-width="1.1"/>
<line x1="709.3" y1="254.2" x2="715.7" y2="247.8" stroke="#222" stroke-width="1.1"/>
<line x1="709.3" y1="278.2" x2="715.7" y2="271.8" stroke="#222" stroke-width="1.1"/>
<line x1="709.3" y1="309.5" x2="715.7" y2="303.1" stroke="#222" stroke-width="1.1"/>
<line x1="742.5" y1="254.2" x2="748.9000000000001" y2="247.8" stroke="#222" stroke-width="1.1"/>
<line x1="742.5" y1="278.2" x2="748.9000000000001" y2="271.8" stroke="#222" stroke-width="1.1"/>
<path d="M693.8,318 C705,316.5 725,316.5 738,317.5 C755,319.5 770,321.5 786.8,322.3 L786.5,343 L701,343Z" fill="#14adea"/>
<path d="M693.8,318 C705,316.5 725,316.5 738,317.5 C755,319.5 770,321.5 786.8,322.3" fill="none" stroke="#0b5f8a" stroke-width="0.8"/>
<line x1="700.5" y1="343.3" x2="786.8" y2="343.3" stroke="#0a2a3a" stroke-width="1.6"/>
<line x1="690" y1="306" x2="701.2" y2="343.5" stroke="#333" stroke-width="1.1"/>
<line x1="722" y1="325" x2="728" y2="325" stroke="#0c8fd2" stroke-width="0.8"/>
<line x1="705" y1="332" x2="711" y2="332" stroke="#0c8fd2" stroke-width="0.8"/>
<line x1="740" y1="332" x2="746" y2="332" stroke="#0c8fd2" stroke-width="0.8"/>
<line x1="724" y1="339" x2="730" y2="339" stroke="#0c8fd2" stroke-width="0.8"/>
<line x1="756" y1="325.5" x2="762" y2="325.5" stroke="#0c8fd2" stroke-width="0.8"/>
<line x1="772" y1="332" x2="778" y2="332" stroke="#0c8fd2" stroke-width="0.8"/>
<line x1="756" y1="339" x2="762" y2="339" stroke="#0c8fd2" stroke-width="0.8"/>
<line x1="750.7" y1="327" x2="745" y2="400" stroke="#2a2a2a" stroke-width="0.8" stroke-dasharray="9 2 2 2"/>
<line x1="555" y1="399.4" x2="746" y2="399.4" stroke="#2a2a2a" stroke-width="1"/>
<line x1="431.3" y1="257.8" x2="266.8" y2="401" stroke="#111" stroke-width="1.2"/>
<g font-family="'Liberation Sans', sans-serif" font-style="italic">
<text x="109.3" y="73.4" font-size="19.5" text-anchor="start" fill="#1c1c1c" textLength="13.5" lengthAdjust="spacingAndGlyphs">A</text>
<text x="201" y="134.4" font-size="14.5" text-anchor="start" fill="#1c1c1c" textLength="99" lengthAdjust="spacing">геотекстиль</text>
<text x="150.6" y="154.3" font-size="15" text-anchor="start" fill="#1c1c1c" textLength="25" lengthAdjust="spacing">500</text>
<text x="151" y="347" font-size="15" text-anchor="start" fill="#1c1c1c" textLength="25" lengthAdjust="spacing">400</text>
<text x="18.3" y="255" font-size="15" text-anchor="start" fill="#1c1c1c" textLength="24" lengthAdjust="spacing" transform="rotate(-90 18.3 255)">600</text>
<text x="41.3" y="264" font-size="15" text-anchor="start" fill="#1c1c1c" textLength="23" lengthAdjust="spacing" transform="rotate(-90 41.3 264)">510</text>
<text x="432.5" y="13" font-size="14.5" text-anchor="start" fill="#1c1c1c" textLength="35.5" lengthAdjust="spacing">слой</text>
<text x="477" y="13" font-size="14.5" text-anchor="start" fill="#1c1c1c" textLength="46.5" lengthAdjust="spacing">щебня</text>
<text x="535" y="13" font-size="14.5" text-anchor="start" fill="#1c1c1c" textLength="66" lengthAdjust="spacing">фракции</text>
<text x="614.5" y="13" font-size="14.5" text-anchor="start" fill="#1c1c1c" textLength="49.5" lengthAdjust="spacing">20-40,</text>
<text x="675" y="13" font-size="14.5" text-anchor="start" fill="#1c1c1c" textLength="40" lengthAdjust="spacing">t=100</text>
<text x="719.5" y="13" font-size="14.5" text-anchor="start" fill="#1c1c1c" textLength="18.5" lengthAdjust="spacingAndGlyphs">мм</text>
<text x="432.5" y="50.5" font-size="14.5" text-anchor="start" fill="#1c1c1c" textLength="35.5" lengthAdjust="spacing">слой</text>
<text x="477" y="50.5" font-size="14.5" text-anchor="start" fill="#1c1c1c" textLength="46.5" lengthAdjust="spacing">щебня</text>
<text x="535" y="50.5" font-size="14.5" text-anchor="start" fill="#1c1c1c" textLength="66" lengthAdjust="spacing">фракции</text>
<text x="614.5" y="50.5" font-size="14.5" text-anchor="start" fill="#1c1c1c" textLength="49.5" lengthAdjust="spacing">20-40,</text>
<text x="675" y="50.5" font-size="14.5" text-anchor="start" fill="#1c1c1c" textLength="40" lengthAdjust="spacing">t=410</text>
<text x="719.5" y="50.5" font-size="14.5" text-anchor="start" fill="#1c1c1c" textLength="18.5" lengthAdjust="spacingAndGlyphs">мм</text>
<text x="432.5" y="31.7" font-size="14.5" text-anchor="start" fill="#1c1c1c" textLength="103" lengthAdjust="spacing">геотекстиль</text>
<text x="432.5" y="68.7" font-size="14.5" text-anchor="start" fill="#1c1c1c" textLength="103" lengthAdjust="spacing">геотекстиль</text>
<text x="432.5" y="87" font-size="14.5" text-anchor="start" fill="#1c1c1c" textLength="119" lengthAdjust="spacing">существующий</text>
<text x="562.5" y="87" font-size="14.5" text-anchor="start" fill="#1c1c1c" textLength="44" lengthAdjust="spacing">грунт</text>
<text x="568.5" y="144.5" font-size="14.5" text-anchor="start" fill="#1c1c1c" textLength="102.5" lengthAdjust="spacing">ревизионный</text>
<text x="680.5" y="144.5" font-size="14.5" text-anchor="start" fill="#1c1c1c" textLength="59.5" lengthAdjust="spacing">колодец</text>
<text x="640.5" y="164.2" font-size="15" text-anchor="start" fill="#1c1c1c" textLength="30.5" lengthAdjust="spacingAndGlyphs">Ф110</text>
<text x="466.3" y="168" font-size="15" text-anchor="start" fill="#1c1c1c" textLength="24" lengthAdjust="spacing" transform="rotate(-90 466.3 168)">300</text>
<text x="707.6" y="246" font-size="15" text-anchor="start" fill="#1c1c1c" textLength="24" lengthAdjust="spacing" transform="rotate(-90 707.6 246)">200</text>
<text x="707.2" y="302" font-size="15" text-anchor="start" fill="#1c1c1c" textLength="24" lengthAdjust="spacing" transform="rotate(-90 707.2 302)">200</text>
<text x="740.2" y="241" font-size="15" text-anchor="start" fill="#1c1c1c" textLength="28" lengthAdjust="spacingAndGlyphs" transform="rotate(-90 740.2 241)">Ф110</text>
<text x="277.5" y="406.4" font-size="14.5" text-anchor="start" fill="#1c1c1c" textLength="40" lengthAdjust="spacing">труба</text>
<text x="333.7" y="406.4" font-size="14.5" text-anchor="start" fill="#1c1c1c" textLength="137.5" lengthAdjust="spacing">перфорированная</text>
<text x="483.7" y="406.6" font-size="15" text-anchor="start" fill="#1c1c1c" textLength="32" lengthAdjust="spacingAndGlyphs">Ф110</text>
<text x="576.3" y="396" font-size="14.5" text-anchor="start" fill="#1c1c1c" textLength="48" lengthAdjust="spacing">место</text>
<text x="633.7" y="396" font-size="14.5" text-anchor="start" fill="#1c1c1c" textLength="44.5" lengthAdjust="spacing">сбора</text>
<text x="687.5" y="396" font-size="14.5" text-anchor="start" fill="#1c1c1c" textLength="35.5" lengthAdjust="spacing">воды</text>
</g>
</svg></body></html>
